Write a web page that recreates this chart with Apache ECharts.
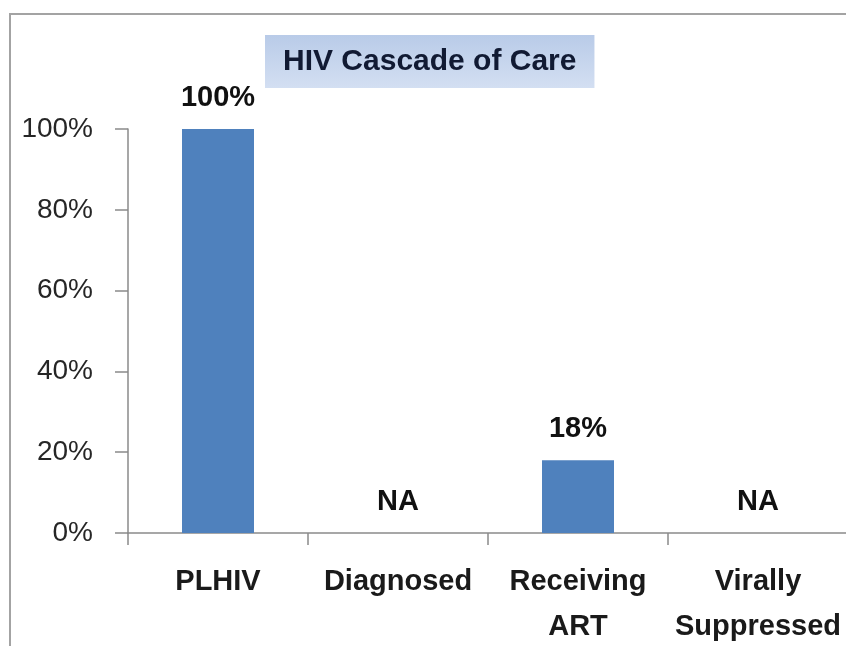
<!DOCTYPE html>
<html>
<head>
<meta charset="utf-8">
<script src="https://cdn.jsdelivr.net/npm/echarts@6/dist/echarts.min.js"></script>
<style>
html,body{margin:0;padding:0;background:#fff;}
#c{width:846px;height:646px;}
</style>
</head>
<body>
<div id="c"></div>
<script>
var categories = ['PLHIV', 'Diagnosed', 'Receiving\nART', 'Virally\nSuppressed'];
var values = [100, 0, 18, 0];
var barLabels = ['100%', 'NA', '18%', 'NA'];
var yTicks = [0, 20, 40, 60, 80, 100];
var titleText = 'HIV Cascade of Care';

var chart = echarts.init(document.getElementById('c'), null, {renderer: 'canvas'});
var FONT = '"Liberation Sans", Arial, sans-serif';
chart.setOption({
  animation: false,
  backgroundColor: '#fff',
  graphic: [{
    type: 'rect',
    shape: {x: 10, y: 14, width: 900, height: 700},
    style: {fill: 'none', stroke: '#a3a3a3', lineWidth: 2},
    z: 0
  }],
  title: {
    text: titleText,
    left: 265,
    top: 35,
    padding: [10, 18, 10, 18],
    backgroundColor: {
      type: 'linear', x: 0, y: 0, x2: 0, y2: 1,
      colorStops: [{offset: 0, color: '#b9cbe8'}, {offset: 1, color: '#d3dff2'}]
    },
    textStyle: {fontFamily: FONT, fontSize: 30, fontWeight: 'bold', color: '#111a33', lineHeight: 33}
  },
  grid: {left: 128, top: 129, width: 720, height: 404, containLabel: false, outerBoundsMode: 'none'},
  xAxis: {
    type: 'category',
    data: categories,
    axisLine: {show: true, lineStyle: {color: '#8a8a8a', width: 1.5}},
    axisTick: {show: true, length: 12, lineStyle: {color: '#8a8a8a', width: 1.5}},
    axisLabel: {
      interval: 0, margin: 26, fontFamily: FONT, fontSize: 29, fontWeight: 'bold',
      color: '#1a1a1a', lineHeight: 45
    }
  },
  yAxis: {
    type: 'value',
    min: 0, max: 100, interval: 20,
    splitLine: {show: false},
    axisLine: {show: true, lineStyle: {color: '#8a8a8a', width: 1.5}},
    axisTick: {show: true, length: 13, lineStyle: {color: '#8a8a8a', width: 1.5}},
    axisLabel: {
      margin: 35, fontFamily: FONT, fontSize: 28, color: '#262626',
      formatter: function (v) { return yTicks.indexOf(v) >= 0 ? v + '%' : ''; }
    }
  },
  series: [{
    type: 'bar',
    data: values,
    barWidth: 72,
    itemStyle: {color: '#4f81bd'},
    label: {
      show: true, position: 'top', distance: 17,
      fontFamily: FONT, fontSize: 29, fontWeight: 'bold', color: '#111',
      formatter: function (p) { return barLabels[p.dataIndex]; }
    }
  }]
});
</script>
</body>
</html>
